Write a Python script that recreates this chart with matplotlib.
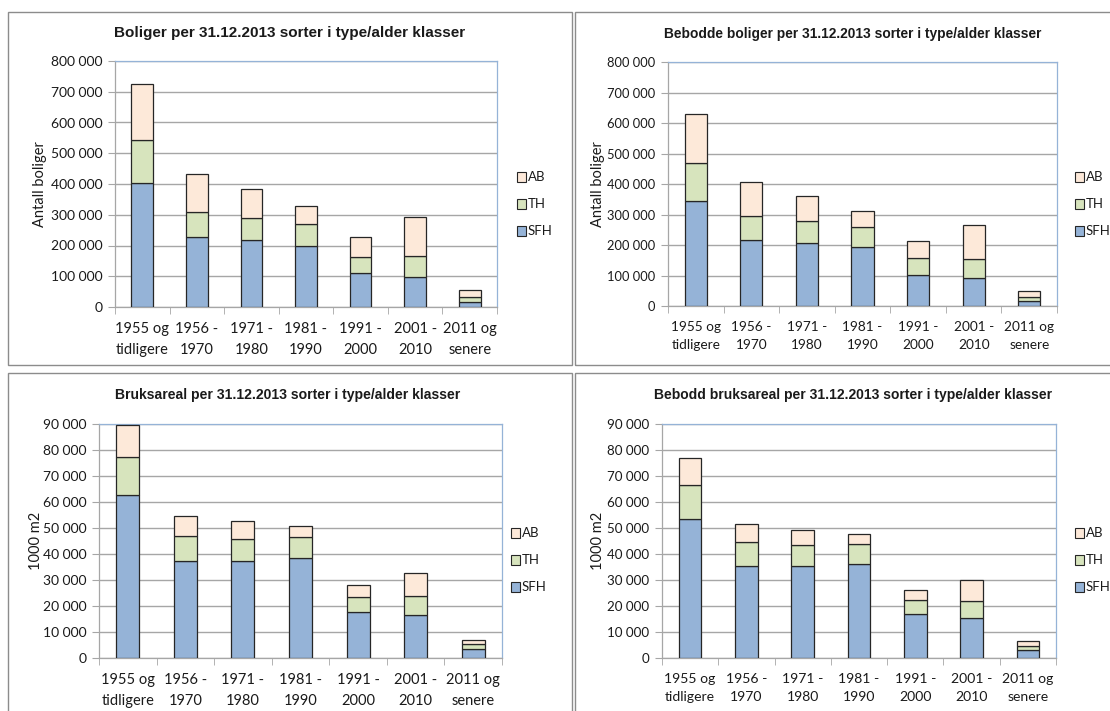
import matplotlib
matplotlib.use("Agg")
import matplotlib.pyplot as plt
from matplotlib.patches import Rectangle
from matplotlib.ticker import FuncFormatter, FixedLocator
import numpy as np

categories = ['1955 og\ntidligere', '1956 -\n1970', '1971 -\n1980', '1981 -\n1990',
              '1991 -\n2000', '2001 -\n2010', '2011 og\nsenere']
series_names = ['SFH', 'TH', 'AB']

# Boliger
boliger_sfh = [402000, 227000, 217000, 200000, 109000, 97000, 16000]
boliger_th = [142000, 83000, 74000, 71000, 55000, 68000, 16000]
boliger_ab = [181000, 121000, 92000, 58000, 65000, 128000, 23000]

# Bebodde boliger
bebodde_sfh = [344000, 217000, 207000, 194000, 103000, 92000, 18000]
bebodde_th = [126000, 77000, 72000, 64000, 55000, 63000, 12000]
bebodde_ab = [159000, 112000, 83000, 52000, 54000, 111000, 20000]

# Bruksareal (1000 m2)
areal_sfh = [62700, 37300, 37300, 38500, 17800, 16600, 3500]
areal_th = [14800, 9600, 8500, 7900, 5700, 7200, 1700]
areal_ab = [12000, 7700, 6800, 4400, 4600, 8800, 1800]

# Bebodd bruksareal (1000 m2)
beb_areal_sfh = [53600, 35500, 35200, 36100, 16900, 15400, 3200]
beb_areal_th = [12800, 9300, 8400, 7700, 5300, 6500, 1500]
beb_areal_ab = [10600, 6900, 5800, 3900, 3900, 8000, 1700]

colors = {'SFH': '#95B3D7', 'TH': '#D7E4BD', 'AB': '#FDE9D9'}
W, H = 1110, 711
TICK_FONT = ['Lato', 'DejaVu Sans']
TITLE_FONT = ['Liberation Sans', 'DejaVu Sans']

fig = plt.figure(figsize=(W / 100, H / 100), dpi=100)
fig.patch.set_facecolor('white')


def px_box(left, top, right, bottom):
    return [left / W, 1 - bottom / H, (right - left) / W, (bottom - top) / H]


def thousands(v, pos):
    return f"{int(v):,}".replace(',', ' ')


def draw_panel(box, title, title_xy, title_size, ylabel, ylabel_x, ymax, ystep, data,
               legend_x, legend_y, tick_size=10):
    ax = fig.add_axes(px_box(*box))
    x = np.arange(len(categories))
    bottom = np.zeros(len(categories))
    for name, vals in zip(series_names, data):
        ax.bar(x, vals, width=0.4, bottom=bottom, color=colors[name],
               edgecolor='#262626', linewidth=0.9, zorder=3)
        bottom += np.array(vals)
    ax.set_xlim(-0.5, len(categories) - 0.5)
    ax.set_ylim(0, ymax)
    ax.yaxis.set_major_locator(FixedLocator(np.arange(0, ymax + 1, ystep)))
    ax.yaxis.set_major_formatter(FuncFormatter(thousands))
    ax.grid(axis='y', color='#A6A6A6', linewidth=1.0, zorder=0)
    ax.set_xticks(x)
    ax.set_xticklabels(categories, fontsize=tick_size + 0.5, family=TICK_FONT,
                       color='#1a1a1a', linespacing=1.6)
    ax.set_xticks(np.arange(-0.5, len(categories)), minor=True)
    ax.tick_params(axis='x', which='major', length=0, pad=11)
    ax.tick_params(axis='x', which='minor', length=5, color='#A6A6A6', direction='out')
    ax.tick_params(axis='y', length=5, color='#A6A6A6', direction='out', pad=4,
                   labelsize=tick_size)
    for lab in ax.get_yticklabels():
        lab.set_family(TICK_FONT)
        lab.set_color('#1a1a1a')
    ax.spines['left'].set_color('#A6A6A6')
    ax.spines['bottom'].set_color('#A6A6A6')
    ax.spines['top'].set_color('#95B3D7')
    ax.spines['right'].set_color('#95B3D7')
    for s in ax.spines.values():
        s.set_linewidth(0.9)

    fig.text(title_xy[0] / W, 1 - title_xy[1] / H, title, ha='center', va='center',
             fontsize=title_size, fontweight='bold', family=TITLE_FONT, color='#1a1a1a')
    fig.text(ylabel_x / W, 1 - (box[1] + box[3]) / 2 / H, ylabel, rotation=90,
             ha='center', va='center', fontsize=10.5, family=TICK_FONT, color='#1a1a1a')

    for i, name in enumerate(['AB', 'TH', 'SFH']):
        yy = legend_y + i * 27
        fig.patches.append(Rectangle(((legend_x - 4) / W, 1 - (yy + 5) / H), 9 / W, 10 / H,
                                     transform=fig.transFigure, facecolor=colors[name],
                                     edgecolor='#262626', linewidth=0.8))
        fig.text((legend_x + 7) / W, 1 - yy / H, name, ha='left', va='center',
                 fontsize=9.5, family=TICK_FONT, color='#1a1a1a')
    return ax


# panel frames
for (l, t, r, b) in [(8, 12, 572, 365), (575, 12, 1115, 365),
                     (8, 373, 572, 716), (575, 373, 1115, 716)]:
    fig.patches.append(Rectangle((l / W, 1 - b / H), (r - l) / W, (b - t) / H,
                                 transform=fig.transFigure, facecolor='none',
                                 edgecolor='#8C8C8C', linewidth=1.0))

draw_panel((115, 61, 497, 307), 'Boliger per 31.12.2013 sorter i type/alder klasser',
           (290, 33), 11, 'Antall boliger', 40, 800000, 100000,
           [boliger_sfh, boliger_th, boliger_ab], 521, 177)
draw_panel((668, 62, 1057, 306), 'Bebodde boliger per 31.12.2013 sorter i type/alder klasser',
           (853, 34), 9.9, 'Antall boliger', 598, 800000, 100000,
           [bebodde_sfh, bebodde_th, bebodde_ab], 1079, 177, tick_size=9.3)
draw_panel((99, 424, 502, 658), 'Bruksareal per 31.12.2013 sorter i type/alder klasser',
           (288, 395), 10.1, '1000 m2', 36, 90000, 10000,
           [areal_sfh, areal_th, areal_ab], 515, 533)
draw_panel((662, 424, 1056, 658), 'Bebodd bruksareal per 31.12.2013 sorter i type/alder klasser',
           (853, 395), 10, '1000 m2', 598, 90000, 10000,
           [beb_areal_sfh, beb_areal_th, beb_areal_ab], 1079, 533, tick_size=9.6)

fig.savefig('out.png', dpi=100)
